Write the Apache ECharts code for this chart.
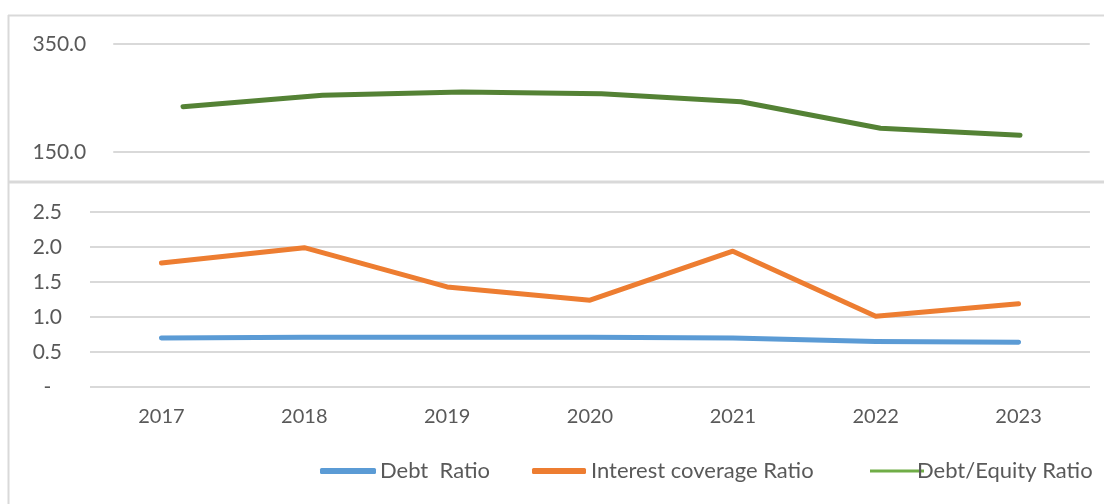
<!DOCTYPE html>
<html>
<head>
<meta charset="utf-8">
<script src="https://cdn.jsdelivr.net/npm/echarts@6/dist/echarts.min.js"></script>
<style>html,body{margin:0;padding:0;background:#fff}#c{width:1104px;height:504px}</style>
</head>
<body>
<div id="c"></div>
<script>
const years = ['2017','2018','2019','2020','2021','2022','2023'];
const debtRatio = [0.70, 0.71, 0.71, 0.71, 0.70, 0.65, 0.64];
const interestCoverage = [1.77, 1.99, 1.43, 1.24, 1.94, 1.01, 1.19];
const debtEquity = [234, 255, 261, 258, 243, 194, 181];
const topTicks = [150, 350];
const bottomTicks = [0, 0.5, 1.0, 1.5, 2.0, 2.5];

const FONT = 'Lato';
const TXT = '#595959';
const GRID = '#d9d9d9';

const chart = echarts.init(document.getElementById('c'));
chart.setOption({
  backgroundColor: '#fff',
  animation: false,
  textStyle: { fontFamily: FONT },
  graphic: [
    { type: 'line', shape: { x1: 8, y1: 15.5, x2: 1104, y2: 15.5 }, style: { stroke: GRID, lineWidth: 2 } },
    { type: 'line', shape: { x1: 8.5, y1: 15, x2: 8.5, y2: 504 }, style: { stroke: GRID, lineWidth: 2 } },
    { type: 'line', shape: { x1: 9, y1: 182, x2: 1104, y2: 182 }, style: { stroke: GRID, lineWidth: 3 } }
  ],
  grid: [
    { left: 113.25, right: 14.25, top: 44, height: 108 },
    { left: 90, right: 14, top: 212, height: 175 }
  ],
  xAxis: [
    { type: 'category', gridIndex: 0, data: years, boundaryGap: true, show: false },
    { type: 'category', gridIndex: 1, data: years, boundaryGap: true,
      axisLine: { show: false }, axisTick: { show: false },
      axisLabel: { color: TXT, fontSize: 20, fontFamily: FONT, margin: 20 } }
  ],
  yAxis: [
    { type: 'value', gridIndex: 0, min: topTicks[0], max: topTicks[topTicks.length - 1], interval: topTicks[1] - topTicks[0],
      axisLine: { show: false }, axisTick: { show: false },
      splitLine: { lineStyle: { color: GRID, width: 2 } },
      axisLabel: { color: TXT, fontSize: 21, fontFamily: FONT, margin: 27, formatter: v => v.toFixed(1) } },
    { type: 'value', gridIndex: 1, min: bottomTicks[0], max: bottomTicks[bottomTicks.length - 1], interval: 0.5,
      axisLine: { show: false }, axisTick: { show: false },
      splitLine: { lineStyle: { color: GRID, width: 2 } },
      axisLabel: { color: TXT, fontSize: 21, fontFamily: FONT, margin: 28,
        formatter: v => v === 0 ? '-  ' : v.toFixed(1) } }
  ],
  legend: [
    { left: 315, top: 455, itemWidth: 56, itemHeight: 6, icon: 'roundRect', itemGap: 0,
      textStyle: { color: TXT, fontSize: 22, fontFamily: FONT, padding: [0, 0, 0, -1] },
      data: [{ name: 'Debt  Ratio', itemStyle: { color: '#5B9BD5' } }] },
    { left: 527, top: 455, itemWidth: 54, itemHeight: 6, icon: 'roundRect', itemGap: 0,
      textStyle: { color: TXT, fontSize: 22, fontFamily: FONT, padding: [0, 0, 0, 0] },
      data: [{ name: 'Interest coverage Ratio', itemStyle: { color: '#ED7D31' } }] },
    { left: 865, top: 455, itemWidth: 54, itemHeight: 3, icon: 'rect', itemGap: 0,
      textStyle: { color: TXT, fontSize: 22, fontFamily: FONT, padding: [0, 0, 0, -12] },
      data: [{ name: 'Debt/Equity Ratio', itemStyle: { color: '#70AD47' } }] }
  ],
  series: [
    { name: 'Debt  Ratio', type: 'line', xAxisIndex: 1, yAxisIndex: 1, data: debtRatio,
      showSymbol: false, symbol: 'none', lineStyle: { color: '#5B9BD5', width: 5, cap: 'round', join: 'round' }, itemStyle: { color: '#5B9BD5' } },
    { name: 'Interest coverage Ratio', type: 'line', xAxisIndex: 1, yAxisIndex: 1, data: interestCoverage,
      showSymbol: false, symbol: 'none', lineStyle: { color: '#ED7D31', width: 5, cap: 'round', join: 'round' }, itemStyle: { color: '#ED7D31' } },
    { name: 'Debt/Equity Ratio', type: 'line', xAxisIndex: 0, yAxisIndex: 0, data: debtEquity,
      showSymbol: false, symbol: 'none', lineStyle: { color: '#548235', width: 5, cap: 'round', join: 'round' }, itemStyle: { color: '#548235' } }
  ]
});
</script>
</body>
</html>
